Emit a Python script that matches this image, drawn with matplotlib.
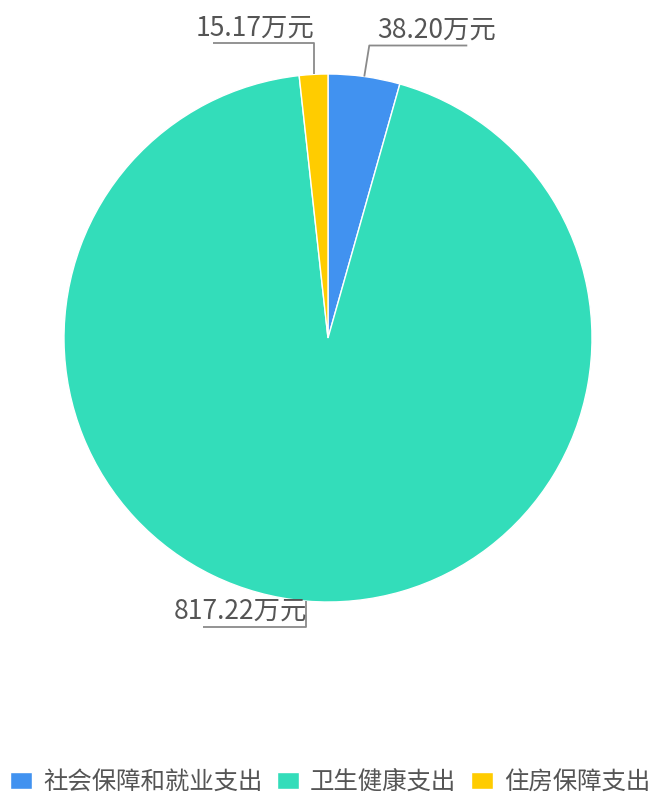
import matplotlib.pyplot as plt
import numpy as np

plt.rcParams['font.family'] = ['Noto Sans CJK SC', 'DejaVu Sans']

# 数据
categories = ['社会保障和就业支出', '卫生健康支出', '住房保障支出']
values = [38.20, 817.22, 15.17]
labels = ['38.20万元', '817.22万元', '15.17万元']
colors = ['#4192F0', '#33DDBA', '#FFCC00']

W, H = 657, 794
fig = plt.figure(figsize=(W / 100, H / 100), dpi=100)
ax = fig.add_axes([0, 0, 1, 1])

# 饼图中心和半径（像素，y 从上往下量）
cx, cy_top, r = 328, 338, 264
cy = H - cy_top

wedges, _ = ax.pie(values, colors=colors, startangle=90, counterclock=False,
                   center=(cx, cy), radius=r, frame=True,
                   wedgeprops=dict(edgecolor='white', linewidth=1))
ax.set_xlim(0, W)
ax.set_ylim(0, H)
ax.set_aspect('equal')
ax.axis('off')

# 标签引导线: (竖线长度, 横线长度, 方向)
label_style = [(31, 98, 1), (26, 103, -1), (31, 101, -1)]
for w, lab, (dy, hl, side) in zip(wedges, labels, label_style):
    ang = np.deg2rad((w.theta1 + w.theta2) / 2)
    x0 = cx + r * np.cos(ang)
    y0 = cy + r * np.sin(ang)
    vdir = 1 if y0 > cy else -1
    x1 = x0 + (5 if side > 0 else 0)
    y1 = y0 + vdir * dy
    x2 = x1 + side * hl
    ax.plot([x0, x1, x2], [y0, y1, y1], color='#8a8a8a', lw=1.3,
            solid_capstyle='butt')
    if side > 0:
        ax.text(x1 + 8, y1 + 2, lab, ha='left', va='bottom',
                fontsize=19, color='#555555')
    else:
        ax.text(x1 + 1, y1 + 2, lab, ha='right', va='bottom',
                fontsize=19, color='#555555')

leg = ax.legend(wedges, categories, loc='center left', ncol=3,
                bbox_to_anchor=(10 / W, 12 / H), frameon=False,
                fontsize=17.6, handlelength=0.9, handleheight=0.65,
                handletextpad=0.45, columnspacing=0.6, borderaxespad=0,
                borderpad=0, labelcolor='#555555')

fig.savefig('out.png', dpi=100)
